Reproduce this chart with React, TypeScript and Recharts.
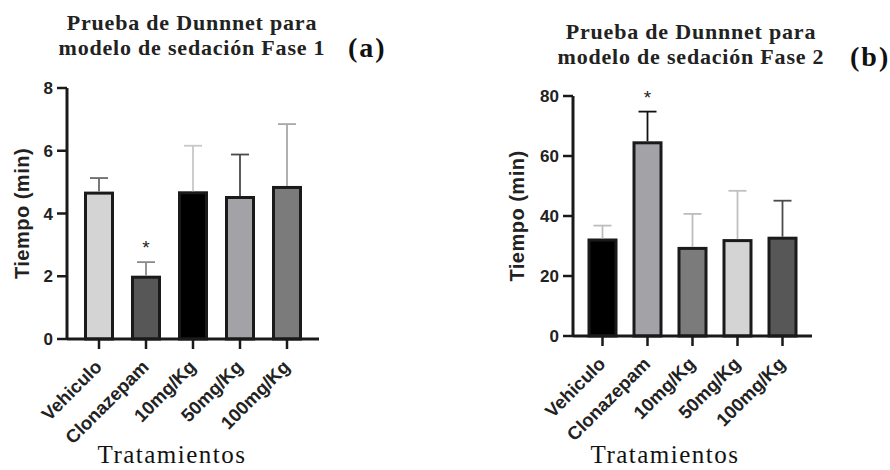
import React from 'react';
import { BarChart, Bar, XAxis, YAxis, Cell } from 'recharts';

const categories = ['Vehiculo', 'Clonazepam', '10mg/Kg', '50mg/Kg', '100mg/Kg'];

// Fase 1 (a)
const fase1Means = [4.65, 1.97, 4.66, 4.51, 4.83];
const fase1Errors = [0.48, 0.48, 1.5, 1.37, 2.02];
const fase1Signif = [false, true, false, false, false];
const fase1Ticks = [0, 2, 4, 6, 8];

// Fase 2 (b)
const fase2Means = [32, 64.4, 29.2, 31.8, 32.6];
const fase2Errors = [4.8, 10.4, 11.5, 16.6, 12.5];
const fase2Signif = [false, true, false, false, false];
const fase2Ticks = [0, 20, 40, 60, 80];

const fase1Fills = ['#d4d4d4', '#575757', '#000000', '#a3a3a7', '#7b7b7b'];
const fase1Whiskers = ['#6a6a6a', '#8a8a8a', '#c8c8c8', '#4a4a4a', '#a8a8a8'];
const fase2Fills = ['#000000', '#a3a3a7', '#7b7b7b', '#d4d4d4', '#575757'];
const fase2Whiskers = ['#bdbdbd', '#111111', '#bdbdbd', '#c0c0c0', '#4a4a4a'];

const SANS = '"Liberation Sans", Arial, sans-serif';
const SERIF = '"Liberation Serif", "Times New Roman", serif';
const INK = '#1a1a1a';

const buildRows = (means: number[], errors: number[], signif: boolean[]) =>
  categories.map((name, i) => ({ name, mean: means[i], err: errors[i], sig: signif[i], i }));

// bar + upper whisker (SD) + significance star
const makeBarShape = (whiskers: string[]) => (props: any) => {
  const { x, y, width, height, fill, payload } = props;
  const unit = payload.mean > 0 ? height / payload.mean : 0;
  const cx = x + width / 2;
  const top = y - payload.err * unit;
  const col = whiskers[payload.i];
  return (
    <g>
      <rect x={x} y={y} width={width} height={height} fill={fill} stroke={INK} strokeWidth={3} />
      <line x1={cx} y1={y - 1.5} x2={cx} y2={top} stroke={col} strokeWidth={1.8} />
      <line x1={cx - 9} y1={top} x2={cx + 9} y2={top} stroke={col} strokeWidth={1.8} />
      {payload.sig && (
        <text x={cx} y={top - 8} textAnchor="middle" fontSize={19} fontFamily={SANS} fill="#222">
          *
        </text>
      )}
    </g>
  );
};

const SlantTick = (props: any) => {
  const { x, y, payload } = props;
  return (
    <g transform={`translate(${x + 4},${y + 17})`}>
      <text
        x={0}
        y={0}
        textAnchor="end"
        transform="rotate(-45)"
        fontSize={18.5}
        fontWeight="bold"
        fontFamily={SANS}
        fill="#222"
      >
        {payload.value}
      </text>
    </g>
  );
};

interface PanelProps {
  rows: any[];
  fills: string[];
  whiskers: string[];
  ticks: number[];
  margin: { top: number; right: number; bottom: number; left: number };
  yWidth: number;
  labelOffset: number;
  pad: number;
}

const Panel: React.FC<PanelProps> = ({ rows, fills, whiskers, ticks, margin, yWidth, labelOffset, pad }) => (
  <BarChart width={445} height={470} data={rows} margin={margin} barSize={27}>
    <XAxis
      dataKey="name"
      interval={0}
      height={100}
      padding={{ left: pad, right: pad }}
      axisLine={{ stroke: INK, strokeWidth: 3 }}
      tickLine={{ stroke: INK, strokeWidth: 2.5 }}
      tickSize={10}
      tick={<SlantTick />}
    />
    <YAxis
      width={yWidth}
      domain={[0, ticks[ticks.length - 1]]}
      ticks={ticks}
      interval={0}
      axisLine={{ stroke: INK, strokeWidth: 3 }}
      tickLine={{ stroke: INK, strokeWidth: 2.5 }}
      tickSize={10}
      tickMargin={4}
      tick={{ fill: '#222', fontSize: 17, fontWeight: 'bold', fontFamily: SANS }}
      label={{
        value: 'Tiempo (min)',
        angle: -90,
        position: 'insideLeft',
        offset: labelOffset,
        style: { textAnchor: 'middle', fill: '#222', fontSize: 20, fontWeight: 'bold', fontFamily: SANS, letterSpacing: 0.5 }
      }}
    />
    <Bar dataKey="mean" isAnimationActive={false} shape={makeBarShape(whiskers)}>
      {rows.map((r) => (
        <Cell key={r.name} fill={fills[r.i]} />
      ))}
    </Bar>
  </BarChart>
);

const titleStyle: React.CSSProperties = {
  position: 'absolute',
  width: 340,
  textAlign: 'center',
  fontFamily: SERIF,
  fontWeight: 'bold',
  fontSize: 22,
  lineHeight: '25px',
  letterSpacing: 0.8,
  color: '#222'
};

const tagStyle: React.CSSProperties = {
  position: 'absolute',
  fontFamily: SERIF,
  fontWeight: 'bold',
  fontSize: 28,
  lineHeight: '30px',
  letterSpacing: 2,
  color: '#111'
};

const xTitleStyle: React.CSSProperties = {
  position: 'absolute',
  width: 240,
  textAlign: 'center',
  fontFamily: SERIF,
  fontSize: 25,
  lineHeight: '28px',
  letterSpacing: 1.5,
  color: '#111'
};

export default function App() {
  const rows1 = buildRows(fase1Means, fase1Errors, fase1Signif);
  const rows2 = buildRows(fase2Means, fase2Errors, fase2Signif);
  return (
    <div style={{ position: 'absolute', left: 0, top: 0, width: 890, height: 470, background: '#fff', overflow: 'hidden' }}>
      <div style={{ position: 'absolute', left: 0, top: 0 }}>
        <Panel
          rows={rows1}
          fills={fase1Fills}
          whiskers={fase1Whiskers}
          ticks={fase1Ticks}
          margin={{ top: 88, right: 126, bottom: 31, left: 0 }}
          yWidth={67}
          labelOffset={22}
          pad={8.5}
        />
      </div>
      <div style={{ position: 'absolute', left: 445, top: 0 }}>
        <Panel
          rows={rows2}
          fills={fase2Fills}
          whiskers={fase2Whiskers}
          ticks={fase2Ticks}
          margin={{ top: 96, right: 78, bottom: 34, left: 0 }}
          yWidth={128}
          labelOffset={72}
          pad={7}
        />
      </div>

      <div style={{ ...titleStyle, left: 22, top: 10 }}>
        Prueba de Dunnnet para
        <br />
        modelo de sedación Fase 1
      </div>
      <div style={{ ...tagStyle, left: 348, top: 33 }}>(a)</div>

      <div style={{ ...titleStyle, left: 521, top: 19 }}>
        Prueba de Dunnnet para
        <br />
        modelo de sedación Fase 2
      </div>
      <div style={{ ...tagStyle, left: 850, top: 42 }}>(b)</div>

      <div style={{ ...xTitleStyle, left: 52, top: 441 }}>Tratamientos</div>
      <div style={{ ...xTitleStyle, left: 545, top: 441 }}>Tratamientos</div>
    </div>
  );
}
